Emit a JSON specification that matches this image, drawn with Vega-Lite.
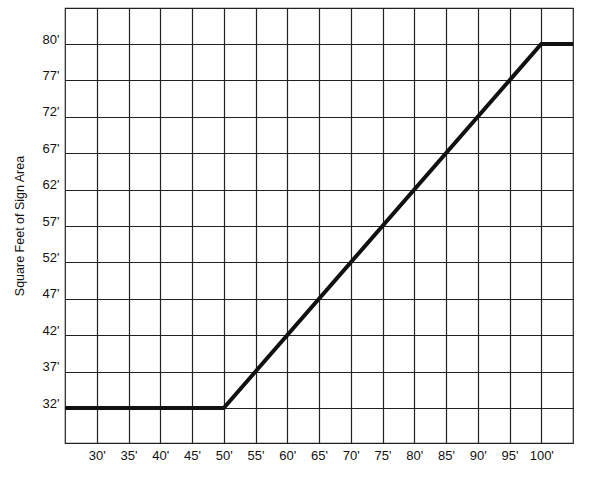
{
  "$schema": "https://vega.github.io/schema/vega-lite/v6.json",
  "autosize": {"type": "none"},
  "padding": {"left": 65, "top": 8, "right": 27, "bottom": 34},
  "width": 508,
  "height": 435,
  "background": "white",
  "config": {
    "font": "Liberation Sans",
    "view": {"stroke": "#222", "strokeWidth": 1.2}
  },
  "data": {
    "values": [
      {"frontage": 25, "area": 32},
      {"frontage": 50, "area": 32},
      {"frontage": 100, "area": 80},
      {"frontage": 105, "area": 80}
    ]
  },
  "mark": {"type": "line", "color": "#111", "strokeWidth": 4, "clip": true},
  "encoding": {
    "x": {
      "field": "frontage",
      "type": "quantitative",
      "scale": {"domain": [25, 105], "nice": false, "zero": false},
      "axis": {
        "title": null,
        "values": [30, 35, 40, 45, 50, 55, 60, 65, 70, 75, 80, 85, 90, 95, 100],
        "labelExpr": "datum.value + \"'\"",
        "grid": true,
        "gridColor": "#222",
        "gridWidth": 1.2,
        "gridOpacity": 1,
        "domain": false,
        "ticks": false,
        "labelPadding": 6,
        "labelFontSize": 13,
        "labelColor": "#111"
      }
    },
    "y": {
      "field": "area",
      "type": "quantitative",
      "scale": {
        "domain": [27, 32, 77, 80, 83],
        "range": [435, 400, 72.4, 36, 0],
        "nice": false,
        "zero": false
      },
      "axis": {
        "title": "Square Feet of Sign Area",
        "titleFontSize": 12.5,
        "titleFontWeight": "normal",
        "titleColor": "#111",
        "titlePadding": 16,
        "values": [32, 37, 42, 47, 52, 57, 62, 67, 72, 77, 80],
        "labelExpr": "datum.value + \"'\"",
        "grid": true,
        "gridColor": "#222",
        "gridWidth": 1.2,
        "gridOpacity": 1,
        "domain": false,
        "ticks": false,
        "labelPadding": 6,
        "labelOffset": -5,
        "labelFontSize": 13,
        "labelColor": "#111"
      }
    }
  }
}
